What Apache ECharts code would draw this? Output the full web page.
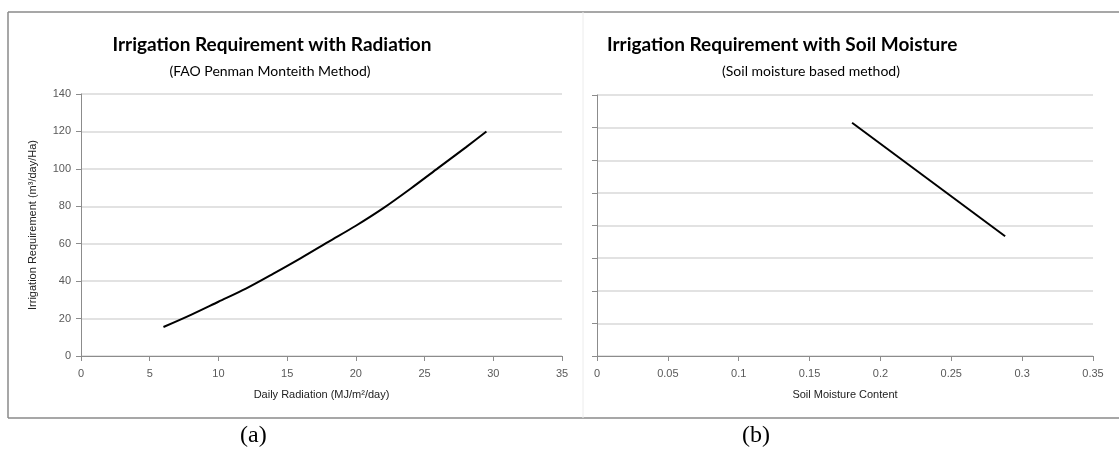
<!DOCTYPE html>
<html>
<head>
<meta charset="utf-8">
<script src="https://cdn.jsdelivr.net/npm/echarts@6/dist/echarts.min.js"></script>
<style>
html,body{margin:0;padding:0;background:#fff;}
#main{width:1119px;height:456px;}
</style>
</head>
<body>
<div id="main"></div>
<script>
// (a) radiation vs irrigation requirement
var radiation = [6, 8, 10, 12, 14, 16, 18, 20, 22, 24, 26, 28, 29.5];
var irrigationA = [15.5, 22, 29, 36, 44, 52.3, 61, 69.6, 79, 89.5, 100.5, 111.5, 120];
// (b) soil moisture vs irrigation requirement
var soilMoisture = [0.18, 0.288];
var irrigationB = [143, 73.4];

var axisGray = "#8c8c8c";
var gridGray = "#d9d9d9";
var labelGray = "#595959";

function pairs(xs, ys){
    var out = [];
    for(var i = 0; i < xs.length; i++){ out.push([xs[i], ys[i]]); }
    return out;
}

var chart = echarts.init(document.getElementById("main"));
var option = {
    backgroundColor: "#fff",
    animation: false,
    title: [
        {text: "Irrigation Requirement with Radiation", left: 267, top: 30, textAlign: "center",
         textStyle: {fontFamily: "Lato", fontWeight: "bold", fontSize: 19, color: "#000"}},
        {text: "(FAO Penman Monteith Method)", left: 265, top: 59, textAlign: "center",
         textStyle: {fontFamily: "Lato", fontWeight: "normal", fontSize: 14, color: "#000"}},
        {text: "Irrigation Requirement with Soil Moisture", left: 602, top: 30,
         textStyle: {fontFamily: "Lato", fontWeight: "bold", fontSize: 19, color: "#000"}},
        {text: "(Soil moisture based method)", left: 806, top: 59, textAlign: "center",
         textStyle: {fontFamily: "Lato", fontWeight: "normal", fontSize: 14, color: "#000"}}
    ],
    grid: [
        {left: 81, top: 94, width: 481, height: 262},
        {left: 597, top: 95, width: 496, height: 261}
    ],
    xAxis: [
        {gridIndex: 0, type: "value", min: 0, max: 35, interval: 5,
         name: "Daily Radiation (MJ/m²/day)", nameLocation: "middle", nameGap: 33,
         nameTextStyle: {fontFamily: "Liberation Sans", fontSize: 11, color: "#222"},
         axisLine: {lineStyle: {color: axisGray}}, axisTick: {length: 5, lineStyle: {color: axisGray}},
         axisLabel: {fontFamily: "Liberation Sans", fontSize: 11, color: labelGray, margin: 12},
         splitLine: {show: false}},
        {gridIndex: 1, type: "value", min: 0, max: 0.35, interval: 0.05,
         name: "Soil Moisture Content", nameLocation: "middle", nameGap: 33,
         nameTextStyle: {fontFamily: "Liberation Sans", fontSize: 11, color: "#222"},
         axisLine: {lineStyle: {color: axisGray}}, axisTick: {length: 5, lineStyle: {color: axisGray}},
         axisLabel: {fontFamily: "Liberation Sans", fontSize: 11, color: labelGray, margin: 12},
         splitLine: {show: false}}
    ],
    yAxis: [
        {gridIndex: 0, type: "value", min: 0, max: 140, interval: 20,
         name: "Irrigation Requirement (m³/day/Ha)", nameLocation: "middle", nameGap: 43,
         nameTextStyle: {fontFamily: "Liberation Sans", fontSize: 11, color: "#222"},
         axisLine: {show: true, lineStyle: {color: axisGray}},
         axisTick: {show: true, length: 5, lineStyle: {color: axisGray}},
         axisLabel: {fontFamily: "Liberation Sans", fontSize: 11, color: labelGray, margin: 10},
         splitLine: {lineStyle: {color: gridGray, width: 1.5}}},
        {gridIndex: 1, type: "value", min: 0, max: 160, interval: 20,
         axisLine: {show: true, lineStyle: {color: axisGray}},
         axisTick: {show: true, length: 5, lineStyle: {color: axisGray}},
         axisLabel: {show: false},
         splitLine: {lineStyle: {color: gridGray, width: 1.5}}}
    ],
    series: [
        {type: "line", xAxisIndex: 0, yAxisIndex: 0, data: pairs(radiation, irrigationA),
         smooth: 0.3, showSymbol: false, lineStyle: {color: "#000", width: 2}},
        {type: "line", xAxisIndex: 1, yAxisIndex: 1, data: pairs(soilMoisture, irrigationB),
         showSymbol: false, lineStyle: {color: "#000", width: 2}}
    ],
    graphic: [
        {type: "line", shape: {x1: 8, y1: 12, x2: 1119, y2: 12}, style: {stroke: "#8a8a8a", lineWidth: 1.5}},
        {type: "line", shape: {x1: 8, y1: 418, x2: 1119, y2: 418}, style: {stroke: "#8a8a8a", lineWidth: 1.5}},
        {type: "line", shape: {x1: 8, y1: 12, x2: 8, y2: 418}, style: {stroke: "#8a8a8a", lineWidth: 1.5}},
        {type: "line", shape: {x1: 583, y1: 12, x2: 583, y2: 418}, style: {stroke: "#ececec", lineWidth: 1}},
        {type: "text", left: 240, top: 424, style: {text: "(a)", font: "24px 'Liberation Serif'", fill: "#000"}},
        {type: "text", left: 742, top: 424, style: {text: "(b)", font: "24px 'Liberation Serif'", fill: "#000"}}
    ]
};
chart.setOption(option);
</script>
</body>
</html>
